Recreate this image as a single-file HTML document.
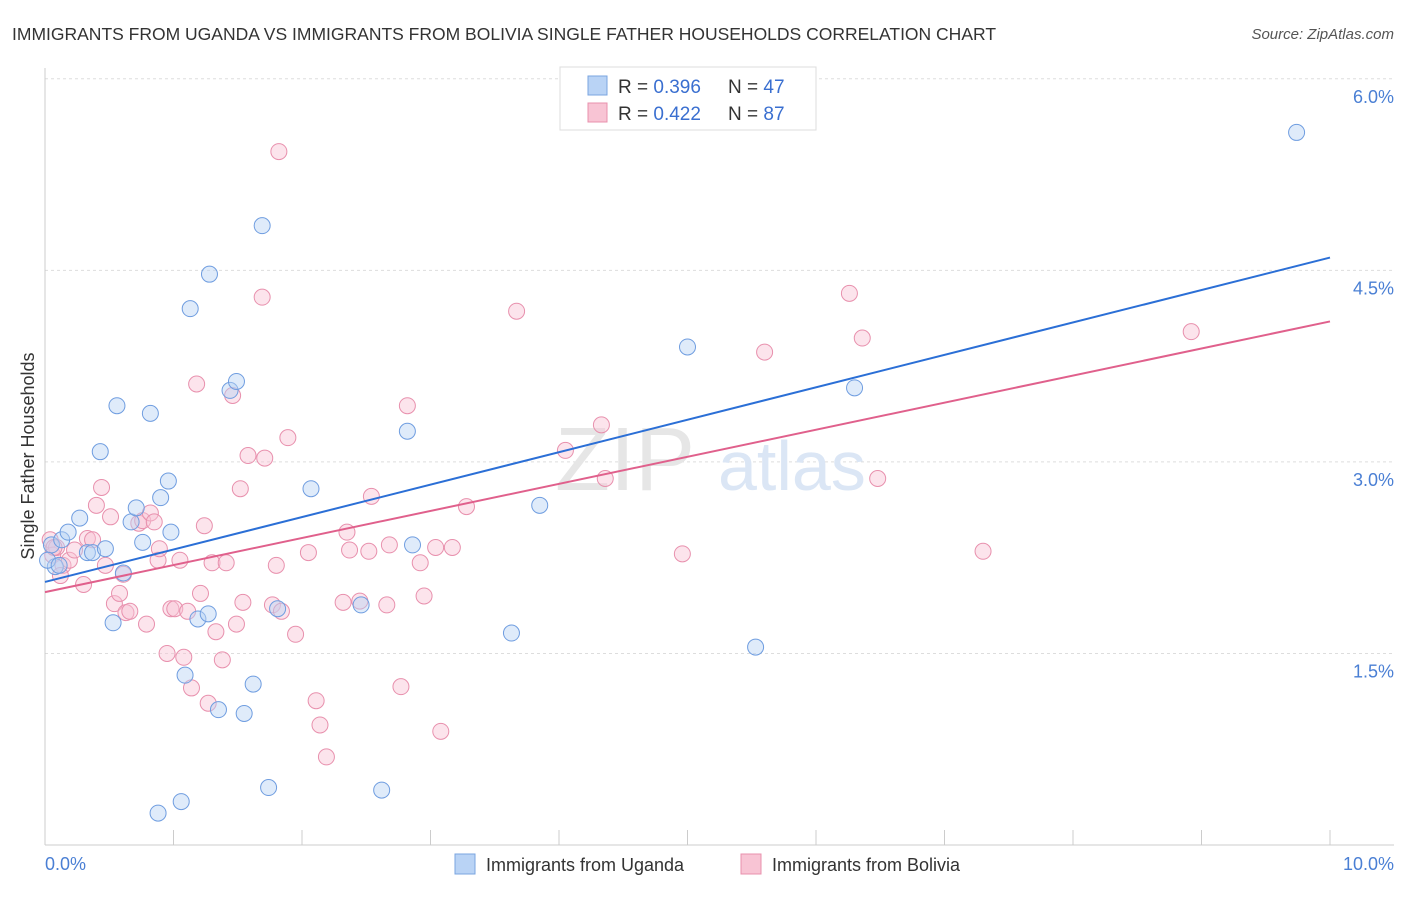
<!DOCTYPE html>
<html><head><meta charset="utf-8"><style>
body{margin:0;background:#fff;font-family:"Liberation Sans",sans-serif}
svg text{font-family:"Liberation Sans",sans-serif}
</style></head><body>
<svg width="1406" height="892">
<text x="12" y="40" font-size="17.5" fill="#333">IMMIGRANTS FROM UGANDA VS IMMIGRANTS FROM BOLIVIA SINGLE FATHER HOUSEHOLDS CORRELATION CHART</text>
<text x="1394" y="39" font-size="15" fill="#555" font-style="italic" text-anchor="end">Source: ZipAtlas.com</text>
<g id="grid"></g>
<text x="555" y="490" font-size="90" fill="#e6e6e6" font-family="Liberation Serif">ZIP</text>
<text x="718" y="490" font-size="70" fill="#dbe6f5">atlas</text>
<line x1="45" y1="68" x2="45" y2="845" stroke="#ccc"/>
<line x1="45" y1="845" x2="1394" y2="845" stroke="#ccc"/>
<text x="34" y="456" font-size="18" fill="#333" transform="rotate(-90 34 456)" text-anchor="middle">Single Father Households</text>
<text x="45" y="870" font-size="18" fill="#4a7fd4">0.0%</text>
<text x="1394" y="870" font-size="18" fill="#4a7fd4" text-anchor="end">10.0%</text>
<g id="marks"></g>
<g>
<rect x="560" y="67" width="256" height="63" fill="#fff" stroke="#ddd"/>
<rect x="588" y="76" width="19" height="19" fill="#b9d3f5" stroke="#7aa5e0"/>
<rect x="588" y="103" width="19" height="19" fill="#f8c4d4" stroke="#e890ad"/>
<text x="618" y="93" font-size="19" fill="#333">R = <tspan fill="#3a6fd0">0.396</tspan></text>
<text x="728" y="93" font-size="19" fill="#333">N = <tspan fill="#3a6fd0">47</tspan></text>
<text x="618" y="120" font-size="19" fill="#333">R = <tspan fill="#3a6fd0">0.422</tspan></text>
<text x="728" y="120" font-size="19" fill="#333">N = <tspan fill="#3a6fd0">87</tspan></text>
</g>
<g>
<rect x="455" y="854" width="20" height="20" fill="#b9d3f5" stroke="#7aa5e0"/>
<text x="486" y="871" font-size="18" fill="#333">Immigrants from Uganda</text>
<rect x="741" y="854" width="20" height="20" fill="#f8c4d4" stroke="#e890ad"/>
<text x="772" y="871" font-size="18" fill="#333">Immigrants from Bolivia</text>
</g>
</svg>
<script>
const yTicks=[1.5,3.0,4.5,6.0];
const xTicks=[0,1,2,3,4,5,6,7,8,9,10];
const ugandaX=[0.05,0.08,0.13,0.18,0.27,0.33,0.37,0.47,0.43,0.56,0.53,0.61,0.67,0.71,0.76,0.82,0.90,0.88,0.96,0.98,1.06,1.09,1.13,1.19,1.27,1.28,1.35,1.44,1.49,1.55,1.62,1.69,1.74,1.81,2.07,2.46,2.62,2.82,2.86,3.63,3.85,5.00,5.53,6.30,9.74,0.02,0.11];
const ugandaY=[2.35,2.18,2.39,2.45,2.56,2.29,2.29,2.32,3.08,3.44,1.74,2.13,2.53,2.64,2.37,3.38,2.72,0.25,2.85,2.45,0.34,1.33,4.20,1.77,1.81,4.47,1.06,3.56,3.63,1.03,1.26,4.85,0.45,1.85,2.79,1.88,0.43,3.24,2.35,1.66,2.66,3.90,1.55,3.58,5.58,2.23,2.19];
const boliviaX=[0.04,0.06,0.09,0.14,0.19,0.23,0.30,0.33,0.37,0.40,0.44,0.47,0.51,0.54,0.58,0.61,0.63,0.66,0.73,0.76,0.79,0.82,0.85,0.88,0.89,0.95,0.98,1.01,1.05,1.08,1.11,1.14,1.18,1.21,1.24,1.27,1.30,1.33,1.38,1.41,1.46,1.49,1.52,1.54,1.58,1.69,1.71,1.77,1.80,1.82,1.84,1.89,1.95,2.05,2.11,2.14,2.19,2.32,2.35,2.37,2.45,2.52,2.54,2.66,2.68,2.77,2.82,2.92,2.95,3.04,3.08,3.17,3.28,3.67,4.05,4.33,4.36,4.96,5.60,6.26,6.36,6.48,7.30,8.92,0.07,0.12,5.46];
const boliviaY=[2.39,2.27,2.33,2.19,2.23,2.31,2.04,2.40,2.39,2.66,2.80,2.19,2.57,1.89,1.97,2.12,1.82,1.83,2.52,2.54,1.73,2.60,2.53,2.23,2.32,1.50,1.85,1.85,2.23,1.47,1.83,1.23,3.61,1.97,2.50,1.11,2.21,1.67,1.45,2.21,3.52,1.73,2.79,1.90,3.05,4.29,3.03,1.88,2.19,5.43,1.83,3.19,1.65,2.29,1.13,0.94,0.69,1.90,2.45,2.31,1.91,2.30,2.73,1.88,2.35,1.24,3.44,2.21,1.95,2.33,0.89,2.33,2.65,4.18,3.09,3.29,2.87,2.28,3.86,4.32,3.97,2.87,2.30,4.02,2.33,2.11,5.77];
const trendU=[[0,2.06],[10,4.60]];
const trendB=[[0,1.98],[10,4.10]];
const X0=45,X1=1330,Y0=845,PY=127.7;
const sx=v=>X0+(X1-X0)*v/10, sy=v=>Y0-v*PY;
const NS="http://www.w3.org/2000/svg";
const grid=document.getElementById('grid'),marks=document.getElementById('marks');
function mk(tag,attrs,parent){const e=document.createElementNS(NS,tag);for(const k in attrs)e.setAttribute(k,attrs[k]);parent.appendChild(e);return e;}
yTicks.forEach(t=>{
 const l=mk('line',{x1:45,x2:1394,y1:sy(t),y2:sy(t),stroke:'#ddd','stroke-dasharray':'3,3'},grid);
 
 
 const tx=mk('text',{x:1394,y:sy(t)+24,'font-size':18,fill:'#4a7fd4','text-anchor':'end'},grid);
 tx.textContent=t.toFixed(1)+'%';
 
 
});
xTicks.forEach(t=>{
 const l=mk('line',{x1:sx(t),x2:sx(t),y1:845,y2:830,stroke:'#ccc'},grid);
 
 
});
function dots(xs,ys,fill,stroke,name){
 xs.forEach((x,i)=>{
  const c=mk('circle',{cx:sx(x),cy:sy(ys[i]),r:8,fill:fill,'fill-opacity':0.45,stroke:stroke,'stroke-width':1},marks);
  
  
 });
}
dots(boliviaX,boliviaY,'#f8c4d4','#e890ad','bolivia-point');
dots(ugandaX,ugandaY,'#b9d3f5','#6f9de0','uganda-point');
function trend(t,col,name){
 const l=mk('line',{x1:sx(t[0][0]),y1:sy(t[0][1]),x2:sx(t[1][0]),y2:sy(t[1][1]),stroke:col,'stroke-width':2},marks);
 
 
}
trend(trendU,'#2b6fd6','uganda-trendline');
trend(trendB,'#e0608c','bolivia-trendline');
</script>
</body></html>
